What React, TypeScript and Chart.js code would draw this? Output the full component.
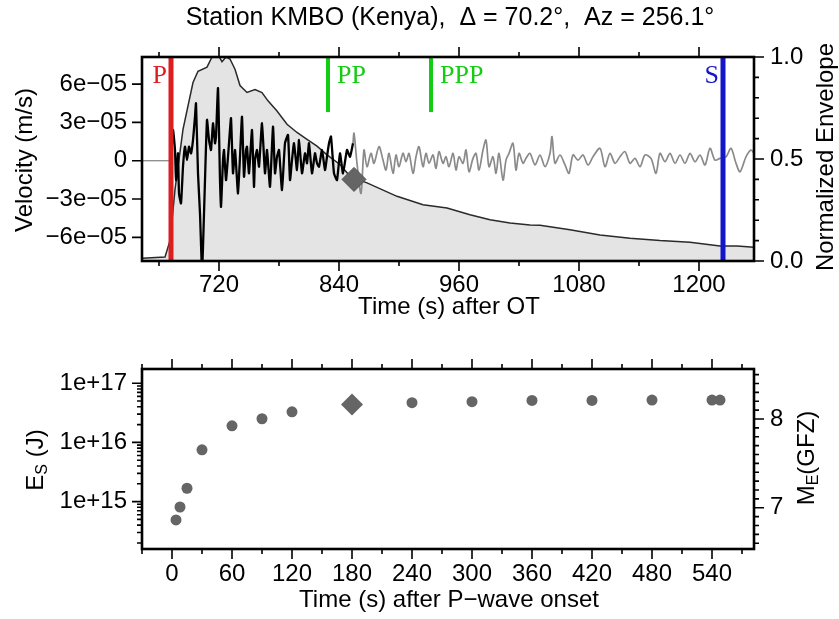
import React, { useEffect, useRef } from 'react';
import { Chart, registerables } from 'chart.js';
Chart.register(...registerables);

const SANS = "'Liberation Sans', Arial, Helvetica, sans-serif";
const SERIF = "'Liberation Serif', 'Times New Roman', serif";

// ---------------- Top panel data ----------------
const titleText = 'Station KMBO (Kenya),  \u0394 = 70.2\u00b0,  Az = 256.1\u00b0';

const preTime = [643, 672];
const preVel = [0, 0];

const pTime = [672, 674, 676, 677, 679, 680, 682, 684, 686, 688, 690, 692, 694, 696, 697, 699, 701, 703, 704, 706, 708, 710, 712, 714, 716, 717, 719, 721, 722, 724, 725, 727, 729, 730, 732, 734, 736, 737, 739, 741, 743, 745, 747, 748, 750, 753, 755, 756, 758, 760, 763, 766, 768, 771, 774, 776, 778, 780, 783, 786, 789, 791, 793, 795, 798, 800, 803, 806, 808, 810, 813, 816, 818, 820, 823, 826, 828, 830, 832, 835, 838, 841, 844, 848, 851, 854];
const pVel = [0, 2.41e-5, 0.84e-5, -1.52e-5, 0.58e-5, -2.56e-5, -3.34e-5, -0.47e-5, 1.10e-5, 0.05e-5, 1.10e-5, 0.58e-5, 1.62e-5, 3.45e-5, 4.5e-5, -0.99e-5, -4.13e-5, -8.6e-5, -6.75e-5, -1.52e-5, 3.2e-5, 1.62e-5, 0.84e-5, 2.93e-5, 1.37e-5, 1.89e-5, 5.68e-5, -1.52e-5, -3.61e-5, 0.05e-5, 0.84e-5, -1.52e-5, 0.31e-5, 1.37e-5, 3.33e-5, -0.99e-5, 0.84e-5, -0.2e-5, -2.56e-5, 0.31e-5, 3.45e-5, -1.25e-5, 0.84e-5, 1.1e-5, -0.99e-5, 2.41e-5, -2.04e-5, 0.05e-5, 0.84e-5, -0.47e-5, 2.93e-5, -0.99e-5, 0.84e-5, -2.04e-5, 2.67e-5, -0.99e-5, 0.31e-5, 0.84e-5, -2.3e-5, 1.37e-5, 2.02e-5, -1.52e-5, 0.05e-5, 1.37e-5, -0.73e-5, 1.62e-5, -0.99e-5, 0.58e-5, -0.2e-5, 1.37e-5, -0.99e-5, 0.58e-5, -0.2e-5, -0.47e-5, 0.84e-5, -0.73e-5, 0.31e-5, 1.37e-5, 1.89e-5, -0.99e-5, -1.52e-5, 0.58e-5, -0.99e-5, 0.84e-5, 0.31e-5, 1.37e-5];

const codaTime = [854, 855, 858, 862, 865, 868, 872, 875, 880, 884, 887, 890, 894, 897, 900, 904, 907, 910, 914, 917, 920, 924, 927, 930, 934, 937, 940, 944, 947, 950, 954, 957, 960, 964, 967, 970, 974, 977, 980, 984, 987, 990, 994, 997, 1000, 1004, 1007, 1010, 1014, 1017, 1020, 1024, 1027, 1031, 1036, 1041, 1046, 1051, 1053, 1056, 1061, 1066, 1070, 1074, 1079, 1084, 1089, 1094, 1101, 1106, 1111, 1116, 1121, 1126, 1131, 1136, 1141, 1146, 1152, 1157, 1161, 1166, 1171, 1176, 1181, 1186, 1191, 1196, 1201, 1206, 1211, 1216, 1221, 1227, 1232, 1237, 1241, 1247, 1252, 1255];
const codaVel = [1.37e-5, 2.15e-5, -0.2e-5, -2.56e-5, 0.84e-5, -0.47e-5, 0.58e-5, -0.2e-5, 1.1e-5, 0.05e-5, -0.73e-5, 0.58e-5, -0.99e-5, 0.45e-5, -0.47e-5, 0.58e-5, -0.08e-5, 0.58e-5, -0.99e-5, 0.31e-5, 1.1e-5, -0.47e-5, 0.58e-5, -0.2e-5, 0.45e-5, -0.6e-5, 0.71e-5, -0.2e-5, 0.31e-5, -0.47e-5, 0.58e-5, -0.73e-5, 0.31e-5, -0.2e-5, 0.84e-5, -0.86e-5, 0.18e-5, 0.58e-5, -0.73e-5, 0.84e-5, 1.62e-5, -0.47e-5, 0.31e-5, -0.99e-5, 0.58e-5, -1.52e-5, 0.05e-5, 0.58e-5, 1.37e-5, -0.73e-5, 0.58e-5, -0.2e-5, 0.2e-5, 0.58e-5, -0.33e-5, 0.45e-5, -0.47e-5, 0.58e-5, 1.89e-5, -0.2e-5, 0.45e-5, -0.33e-5, -0.99e-5, 0.45e-5, 0.05e-5, 0.45e-5, -0.33e-5, 0.31e-5, 0.97e-5, -0.47e-5, 0.58e-5, -0.2e-5, 0.31e-5, 0.71e-5, -0.2e-5, 0.18e-5, -0.47e-5, 0.45e-5, 0.18e-5, -0.99e-5, 0.58e-5, -0.08e-5, 0.58e-5, -0.2e-5, 0.45e-5, -0.2e-5, 0.58e-5, -0.08e-5, 0.45e-5, -0.33e-5, 0.97e-5, 0.05e-5, 0.18e-5, 0.31e-5, 0.97e-5, -0.2e-5, -0.86e-5, 0.31e-5, 0.84e-5, 0.58e-5];

const envTime = [643, 666, 671, 676, 684, 694, 699, 708, 713, 718, 723, 727, 731, 736, 741, 748, 756, 763, 769, 778, 788, 798, 808, 818, 828, 841, 851, 868, 898, 924, 948, 971, 991, 1011, 1031, 1041, 1071, 1101, 1131, 1161, 1191, 1221, 1238, 1255];
const envValue = [0.013, 0.02, 0.10, 0.35, 0.645, 0.875, 0.93, 0.95, 1.0, 1.02, 0.977, 1.0, 0.99, 0.94, 0.86, 0.826, 0.84, 0.826, 0.785, 0.735, 0.67, 0.63, 0.596, 0.563, 0.52, 0.473, 0.415, 0.383, 0.317, 0.276, 0.26, 0.227, 0.202, 0.186, 0.177, 0.175, 0.153, 0.128, 0.112, 0.10, 0.092, 0.074, 0.074, 0.067];

const phaseNames = ['P', 'PP', 'PPP', 'S'];
const phaseTimes = [672, 829, 932, 1224];
const phaseColors = ['#dc1e1e', '#14cc14', '#14cc14', '#1414c8'];
const phaseFrom = [0, 0.73, 0.73, 0];
const phaseTo = [1, 1, 1, 1];
const phaseWidths = [5, 4, 4, 5];

const markerTime = [855];
const markerEnv = [0.40];

const timeTicks = [720, 840, 960, 1080, 1200];
const timeMinor = [660, 780, 900, 1020, 1140];
const velTicks = [-6e-5, -3e-5, 0, 3e-5, 6e-5];
const velTickLabels = ['\u22126e\u221205', '\u22123e\u221205', '0', '3e\u221205', '6e\u221205'];
const envTicks = [0, 0.5, 1];
const envTickLabels = ['0.0', '0.5', '1.0'];
const envMinor = [0.1, 0.2, 0.3, 0.4, 0.6, 0.7, 0.8, 0.9];

// ---------------- Bottom panel data ----------------
const onsetTime = [4, 8, 15, 30, 60, 90, 120, 240, 300, 360, 420, 480, 540, 548];
const energy = [4.9e14, 8.1e14, 1.68e15, 7.5e15, 1.91e16, 2.51e16, 3.29e16, 4.7e16, 4.87e16, 5.13e16, 5.13e16, 5.2e16, 5.2e16, 5.2e16];
const diamondTime = [180];
const diamondEnergy = [4.37e16];

const onsetTicks = [0, 60, 120, 180, 240, 300, 360, 420, 480, 540];
const onsetMinor = [-30, 30, 90, 150, 210, 270, 330, 390, 450, 510, 570];
const energyTicks = [1e15, 1e16, 1e17];
const energyTickLabels = ['1e+15', '1e+16', '1e+17'];
const energyMinor = [2e14, 3e14, 4e14, 5e14, 6e14, 7e14, 8e14, 9e14, 2e15, 3e15, 4e15, 5e15, 6e15, 7e15, 8e15, 9e15, 2e16, 3e16, 4e16, 5e16, 6e16, 7e16, 8e16, 9e16];
const magTicks = [7, 8];
const magMinor = [6.6, 6.7, 6.8, 6.9, 7.1, 7.2, 7.3, 7.4, 7.5, 7.6, 7.7, 7.8, 7.9, 8.1, 8.2, 8.3, 8.4, 8.5];

const ENERGY_MIN = 1.58e14;
const ENERGY_MAX = 1.74e17;
const MAG_SLOPE = 2 / 3;
const MAG_OFFSET = -2.93;
const toMag = (e: number) => MAG_SLOPE * Math.log10(e) + MAG_OFFSET;

// ---------------- helpers ----------------
type TickSpec = { id: string; values: number[]; len: number; sides: string[] };

function drawTickMarks(chart: any, specs: TickSpec[]) {
  const { ctx, chartArea: a } = chart;
  ctx.save();
  ctx.strokeStyle = '#000';
  ctx.lineWidth = 1.6;
  ctx.beginPath();
  for (const s of specs) {
    const sc = chart.scales[s.id];
    for (const v of s.values) {
      if (v < Math.min(sc.min, sc.max) || v > Math.max(sc.min, sc.max)) continue;
      const p = sc.getPixelForValue(v);
      for (const side of s.sides) {
        if (side === 'bottom') { ctx.moveTo(p, a.bottom); ctx.lineTo(p, a.bottom + s.len); }
        if (side === 'top') { ctx.moveTo(p, a.top); ctx.lineTo(p, a.top - s.len); }
        if (side === 'left') { ctx.moveTo(a.left, p); ctx.lineTo(a.left - s.len, p); }
        if (side === 'right') { ctx.moveTo(a.right, p); ctx.lineTo(a.right + s.len, p); }
      }
    }
  }
  ctx.stroke();
  ctx.lineWidth = 2.6;
  ctx.strokeRect(a.left, a.top, a.right - a.left, a.bottom - a.top);
  ctx.restore();
}

function drawRotated(ctx: CanvasRenderingContext2D, parts: [string, boolean][], cx: number, cy: number, size: number) {
  ctx.save();
  ctx.translate(cx, cy);
  ctx.rotate(-Math.PI / 2);
  const subSize = Math.round(size * 0.68);
  let total = 0;
  for (const [t, sub] of parts) {
    ctx.font = `${sub ? subSize : size}px ${SANS}`;
    total += ctx.measureText(t).width;
  }
  let x = -total / 2;
  ctx.fillStyle = '#000';
  ctx.textBaseline = 'middle';
  ctx.textAlign = 'left';
  for (const [t, sub] of parts) {
    ctx.font = `${sub ? subSize : size}px ${SANS}`;
    ctx.fillText(t, x, sub ? size * 0.28 : 0);
    x += ctx.measureText(t).width;
  }
  ctx.restore();
}

function drawCentered(ctx: CanvasRenderingContext2D, text: string, cx: number, cy: number, size: number) {
  ctx.save();
  ctx.font = `${size}px ${SANS}`;
  ctx.fillStyle = '#000';
  ctx.textAlign = 'center';
  ctx.textBaseline = 'middle';
  ctx.fillText(text, cx, cy);
  ctx.restore();
}

const tickFont = { family: SANS, size: 24 };

function fixedTicks(values: number[]) {
  return (scale: any) => { scale.ticks = values.map((v) => ({ value: v })); };
}

// ---------------- configs ----------------
function topConfig(): any {
  const xy = (ts: number[], vs: number[]) => ts.map((t, i) => ({ x: t, y: vs[i] }));
  const phaseSets = phaseNames.map((name, i) => ({
    type: 'line',
    label: name,
    data: [{ x: phaseTimes[i], y: phaseFrom[i] }, { x: phaseTimes[i], y: phaseTo[i] }],
    yAxisID: 'env',
    borderColor: phaseColors[i],
    borderWidth: phaseWidths[i],
    pointRadius: 0,
    borderCapStyle: 'butt',
    order: 3,
    clip: 0,
  }));
  return {
    type: 'line',
    data: {
      datasets: [
        {
          label: 'envelope', data: xy(envTime, envValue), yAxisID: 'env',
          borderColor: '#2a2a2a', borderWidth: 1.5, backgroundColor: '#e4e4e4',
          fill: 'start', pointRadius: 0, order: 10, clip: 0,
        },
        {
          label: 'pre', data: xy(preTime, preVel), yAxisID: 'y',
          borderColor: '#808080', borderWidth: 1.2, pointRadius: 0, order: 8, clip: 0,
        },
        {
          label: 'coda', data: xy(codaTime, codaVel), yAxisID: 'y',
          borderColor: '#8a8a8a', borderWidth: 1.7, pointRadius: 0, order: 8, clip: 0,
          tension: 0.3,
        },
        {
          label: 'wave', data: xy(pTime, pVel), yAxisID: 'y',
          borderColor: '#000', borderWidth: 2.3, pointRadius: 0, order: 7, clip: 0,
          tension: 0.15,
        },
        ...phaseSets,
        {
          type: 'scatter', label: 'marker', data: xy(markerTime, markerEnv), yAxisID: 'env',
          pointStyle: 'rectRot', pointRadius: 12, backgroundColor: '#656565',
          borderColor: '#505050', borderWidth: 1, order: 1,
        },
      ],
    },
    options: {
      responsive: false,
      animation: false,
      devicePixelRatio: 1,
      layout: { padding: { top: 57, left: 0, right: 0, bottom: 0 } },
      plugins: { legend: { display: false }, tooltip: { enabled: false } },
      scales: {
        x: {
          type: 'linear', position: 'bottom', min: 643, max: 1255,
          afterFit: (s: any) => { s.height = 69; },
          afterBuildTicks: fixedTicks(timeTicks),
          grid: { display: false, drawTicks: false }, border: { display: false },
          ticks: { autoSkip: false, maxRotation: 0, padding: 10, color: '#000', font: tickFont, callback: (v: number) => String(v) },
        },
        y: {
          type: 'linear', position: 'left', min: -7.85e-5, max: 8.12e-5,
          afterFit: (s: any) => { s.width = 142; },
          afterBuildTicks: fixedTicks(velTicks),
          grid: { display: false, drawTicks: false }, border: { display: false },
          ticks: { autoSkip: false, padding: 15, color: '#000', font: tickFont, callback: (v: number) => velTickLabels[velTicks.indexOf(v)] },
        },
        env: {
          type: 'linear', position: 'right', min: 0, max: 1,
          afterFit: (s: any) => { s.width = 85; },
          afterBuildTicks: fixedTicks(envTicks),
          grid: { display: false, drawTicks: false }, border: { display: false },
          ticks: { autoSkip: false, padding: 16, color: '#000', font: tickFont, callback: (v: number) => envTickLabels[envTicks.indexOf(v)] },
        },
      },
    },
    plugins: [{
      id: 'topDecor',
      afterDraw(chart: any) {
        drawTickMarks(chart, [
          { id: 'x', values: timeTicks, len: 10, sides: ['bottom', 'top'] },
          { id: 'x', values: timeMinor, len: 5, sides: ['bottom', 'top'] },
          { id: 'y', values: velTicks, len: 10, sides: ['left'] },
          { id: 'env', values: envTicks, len: 10, sides: ['right'] },
          { id: 'env', values: envMinor, len: 5, sides: ['right'] },
        ]);
        const ctx = chart.ctx as CanvasRenderingContext2D;
        const xs = chart.scales.x;
        const ys = chart.scales.env;
        ctx.save();
        ctx.font = `26px ${SERIF}`;
        ctx.textBaseline = 'alphabetic';
        phaseNames.forEach((name, i) => {
          const px = xs.getPixelForValue(phaseTimes[i]);
          const py = ys.getPixelForValue(0.875);
          ctx.fillStyle = phaseColors[i];
          const before = name === 'P' || name === 'S';
          ctx.textAlign = before ? 'right' : 'left';
          ctx.fillText(name, before ? px - 4 : px + 9, py);
        });
        ctx.restore();
        drawCentered(ctx, titleText, 450, 18, 25);
        drawCentered(ctx, 'Time (s) after OT', 449, 307, 24);
        drawRotated(ctx, [['Velocity (m/s)', false]], 25, 160, 24);
        drawRotated(ctx, [['Normalized Envelope', false]], 826, 157, 24);
      },
    }],
  };
}

function bottomConfig(): any {
  return {
    type: 'scatter',
    data: {
      datasets: [
        {
          label: 'diamond', data: diamondTime.map((t, i) => ({ x: t, y: diamondEnergy[i] })),
          pointStyle: 'rectRot', pointRadius: 11, backgroundColor: '#656565', borderWidth: 0, order: 1,
        },
        {
          label: 'energy', data: onsetTime.map((t, i) => ({ x: t, y: energy[i] })),
          pointStyle: 'circle', pointRadius: 5.5, backgroundColor: '#656565', borderWidth: 0, order: 2,
        },
      ],
    },
    options: {
      responsive: false,
      animation: false,
      devicePixelRatio: 1,
      layout: { padding: { top: 39, left: 0, right: 0, bottom: 0 } },
      plugins: { legend: { display: false }, tooltip: { enabled: false } },
      scales: {
        x: {
          type: 'linear', position: 'bottom', min: -30, max: 582,
          afterFit: (s: any) => { s.height = 70; },
          afterBuildTicks: fixedTicks(onsetTicks),
          grid: { display: false, drawTicks: false }, border: { display: false },
          ticks: { autoSkip: false, maxRotation: 0, padding: 11, color: '#000', font: tickFont, callback: (v: number) => String(v) },
        },
        y: {
          type: 'logarithmic', position: 'left', min: ENERGY_MIN, max: ENERGY_MAX,
          afterFit: (s: any) => { s.width = 142; },
          afterBuildTicks: fixedTicks(energyTicks),
          grid: { display: false, drawTicks: false }, border: { display: false },
          ticks: { autoSkip: false, padding: 15, color: '#000', font: tickFont, callback: (v: number) => energyTickLabels[energyTicks.indexOf(v)] },
        },
        mag: {
          type: 'linear', position: 'right', min: toMag(ENERGY_MIN), max: toMag(ENERGY_MAX),
          afterFit: (s: any) => { s.width = 85; },
          afterBuildTicks: fixedTicks(magTicks),
          grid: { display: false, drawTicks: false }, border: { display: false },
          ticks: { autoSkip: false, padding: 16, color: '#000', font: tickFont, callback: (v: number) => String(v) },
        },
      },
    },
    plugins: [{
      id: 'bottomDecor',
      afterDraw(chart: any) {
        drawTickMarks(chart, [
          { id: 'x', values: onsetTicks, len: 10, sides: ['bottom', 'top'] },
          { id: 'x', values: onsetMinor, len: 5, sides: ['bottom', 'top'] },
          { id: 'y', values: energyTicks, len: 10, sides: ['left'] },
          { id: 'y', values: energyMinor, len: 5, sides: ['left'] },
          { id: 'mag', values: magTicks, len: 10, sides: ['right'] },
          { id: 'mag', values: magMinor, len: 5, sides: ['right'] },
        ]);
        const ctx = chart.ctx as CanvasRenderingContext2D;
        drawCentered(ctx, 'Time (s) after P\u2212wave onset', 449, 270, 24);
        drawRotated(ctx, [['E', false], ['S', true], [' (J)', false]], 36, 130, 24);
        drawRotated(ctx, [['M', false], ['E', true], ['(GFZ)', false]], 807, 128, 24);
      },
    }],
  };
}

export default function App() {
  const topRef = useRef<HTMLCanvasElement>(null);
  const botRef = useRef<HTMLCanvasElement>(null);
  useEffect(() => {
    const c1 = new Chart(topRef.current as HTMLCanvasElement, topConfig());
    const c2 = new Chart(botRef.current as HTMLCanvasElement, bottomConfig());
    return () => { c1.destroy(); c2.destroy(); };
  }, []);
  return (
    <div style={{ position: 'fixed', left: 0, top: 0, width: 839, height: 619, background: '#fff' }}>
      <canvas ref={topRef} width={839} height={330} style={{ position: 'absolute', left: 0, top: 0, width: 839, height: 330 }} />
      <canvas ref={botRef} width={839} height={289} style={{ position: 'absolute', left: 0, top: 330, width: 839, height: 289 }} />
    </div>
  );
}
